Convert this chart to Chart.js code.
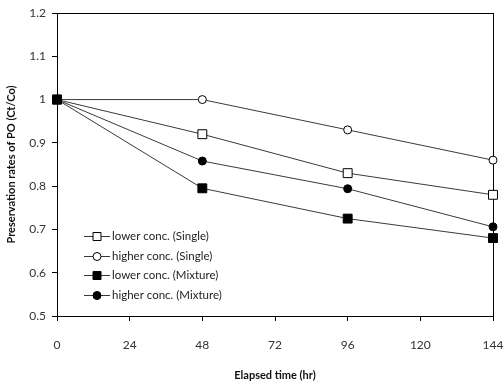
<!DOCTYPE html>
<html>
<head>
<meta charset="utf-8">
<script src="https://cdn.jsdelivr.net/npm/chart.js@4.4.1/dist/chart.umd.min.js"></script>
<style>
  html, body { margin: 0; padding: 0; background: #fff; }
  #wrap { width: 503px; height: 382px; }
</style>
</head>
<body>
<div id="wrap"><canvas id="myChart" width="503" height="382"></canvas></div>
<script>
const hours = [0, 48, 96, 144];
const lowerSingle = [1, 0.92, 0.83, 0.78];
const higherSingle = [1, 1.0, 0.93, 0.86];
const lowerMixture = [1, 0.795, 0.725, 0.68];
const higherMixture = [1, 0.858, 0.794, 0.706];
const xTicks = [0, 24, 48, 72, 96, 120, 144];
const yTicks = [0.5, 0.6, 0.7, 0.8, 0.9, 1, 1.1, 1.2];

const FONT = "Lato, 'Open Sans', sans-serif";
const LINE = "#3a3a3a";

const toPoints = (vals) => hours.map((h, i) => ({ x: h, y: vals[i] }));

// box around the plot area (top and right edges)
const frame = {
  id: "frame",
  beforeDatasetsDraw(chart) {
    const { ctx, chartArea: a } = chart;
    ctx.save();
    ctx.strokeStyle = "#000";
    ctx.lineWidth = 1;
    ctx.strokeRect(Math.round(a.left) + 0.5, Math.round(a.top) + 0.5,
      Math.round(a.right - a.left), Math.round(a.bottom - a.top));
    ctx.restore();
  },
};

// legend drawn inside the plot, lower left
const innerLegend = {
  id: "innerLegend",
  afterDraw(chart) {
    const { ctx, chartArea: a } = chart;
    ctx.save();
    ctx.font = "11.5px " + FONT;
    ctx.textBaseline = "middle";
    chart.data.datasets.forEach((ds, i) => {
      const y = Math.round(a.bottom - 80 + i * 19.5);
      const x0 = Math.round(a.left + 27);
      ctx.strokeStyle = LINE;
      ctx.lineWidth = 1;
      ctx.beginPath();
      ctx.moveTo(x0, y + 0.5);
      ctx.lineTo(x0 + 26, y + 0.5);
      ctx.stroke();
      ctx.fillStyle = ds.pointBackgroundColor;
      ctx.strokeStyle = "#000";
      ctx.beginPath();
      if (ds.pointStyle === "rect") {
        ctx.rect(x0 + 13 - 4, y - 3.5, 8, 8);
      } else {
        ctx.arc(x0 + 13, y + 0.5, 4, 0, Math.PI * 2);
      }
      ctx.fill();
      ctx.stroke();
      ctx.fillStyle = "#222";
      ctx.fillText(ds.label, x0 + 28, y);
    });
    ctx.restore();
  },
};

const series = (label, vals, style, fill, order) => ({
  label,
  data: toPoints(vals),
  order,
  clip: false,
  borderColor: LINE,
  borderWidth: 1,
  pointStyle: style,
  pointRadius: style === "rect" ? 6.3 : 4,
  pointBackgroundColor: fill,
  pointBorderColor: "#000",
  pointBorderWidth: 1,
  tension: 0,
});

new Chart(document.querySelector("#myChart"), {
  type: "line",
  data: {
    datasets: [
      series("lower conc. (Single)", lowerSingle, "rect", "#fff", 3),
      series("higher conc. (Single)", higherSingle, "circle", "#fff", 2),
      series("lower conc. (Mixture)", lowerMixture, "rect", "#000", 0),
      series("higher conc. (Mixture)", higherMixture, "circle", "#000", 1),
    ],
  },
  options: {
    responsive: false,
    animation: false,
    layout: { padding: { top: 13, right: 10, left: 0, bottom: 0 } },
    plugins: { legend: { display: false }, tooltip: { enabled: false } },
    scales: {
      x: {
        type: "linear",
        min: 0,
        max: 144,
        afterBuildTicks: (s) => { s.ticks = xTicks.map((v) => ({ value: v })); },
        afterFit: (s) => { s.height = 66; s.paddingRight = 0; s.paddingLeft = 0; },
        grid: { display: true, drawOnChartArea: false, drawTicks: true, tickLength: 5, color: "#000" },
        border: { display: true, color: "#000" },
        ticks: { color: "#333", font: { family: FONT, size: 12 }, padding: 17, maxRotation: 0 },
        title: {
          display: true,
          text: "Elapsed time (hr)",
          color: "#111",
          font: { family: FONT, size: 11, weight: "bold" },
          padding: { top: 0, bottom: 0 },
        },
      },
      y: {
        min: 0.5,
        max: 1.2,
        afterBuildTicks: (s) => { s.ticks = yTicks.map((v) => ({ value: v })); },
        afterFit: (s) => { s.width = 57; s.paddingTop = 0; s.paddingBottom = 0; },
        grid: { display: true, drawOnChartArea: false, drawTicks: true, tickLength: 5, color: "#000" },
        border: { display: true, color: "#000" },
        ticks: { color: "#333", font: { family: FONT, size: 12 }, padding: 6, callback: (v) => String(v) },
        title: {
          display: true,
          text: "Preservation rates of PO (Ct/Co)",
          color: "#111",
          font: { family: FONT, size: 11, weight: "bold" },
          padding: { top: 5, bottom: 0 },
        },
      },
    },
  },
  plugins: [frame, innerLegend],
});
</script>
</body>
</html>
